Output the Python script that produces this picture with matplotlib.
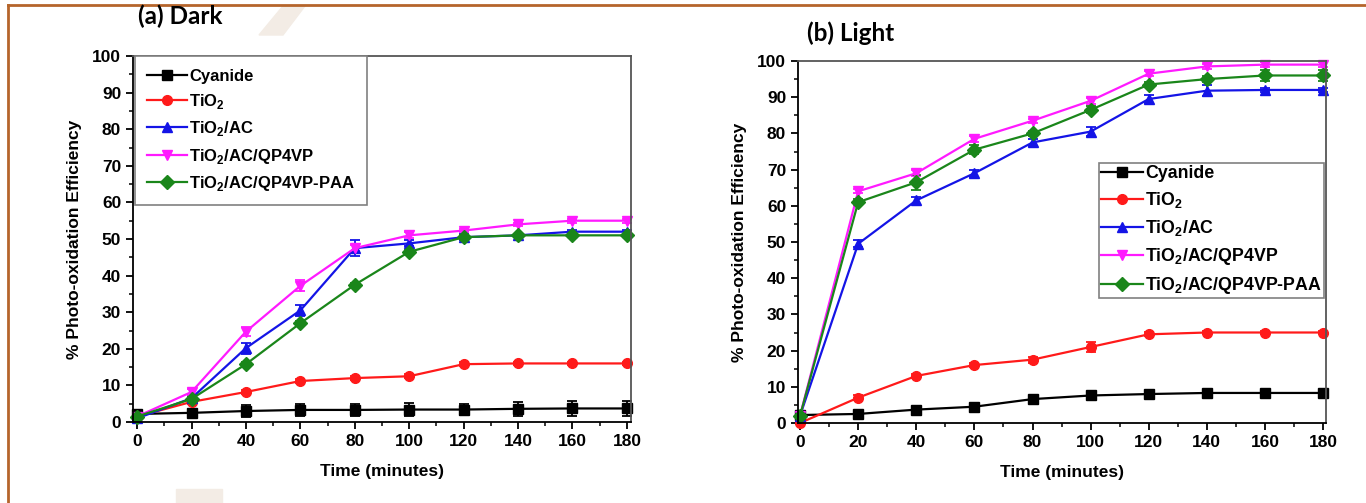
import numpy as np
import matplotlib
matplotlib.use("Agg")
import matplotlib.pyplot as plt
from matplotlib.patches import Polygon
from matplotlib.lines import Line2D
from matplotlib.ticker import MultipleLocator

plt.rcParams['font.family'] = ['Liberation Sans', 'DejaVu Sans']
plt.rcParams['font.weight'] = 'bold'
plt.rcParams['mathtext.fontset'] = 'custom'
plt.rcParams['mathtext.rm'] = 'Liberation Sans:bold'
plt.rcParams['mathtext.bf'] = 'Liberation Sans:bold'

# time axis (minutes)
time = [0, 20, 40, 60, 80, 100, 120, 140, 160, 180]

labels = ['Cyanide', r'TiO$_\mathbf{2}$', r'TiO$_\mathbf{2}$/AC',
          r'TiO$_\mathbf{2}$/AC/QP4VP', r'TiO$_\mathbf{2}$/AC/QP4VP-PAA']
colors = ['black', '#ff1a1a', '#1414e6', '#ff1aff', '#1a861a']
markers = ['s', 'o', '^', 'v', 'D']

# (a) dark
dark = [
    [2.2, 2.5, 3.0, 3.3, 3.3, 3.4, 3.4, 3.6, 3.7, 3.7],
    [1.5, 5.5, 8.2, 11.2, 12.0, 12.5, 15.8, 16.0, 16.0, 16.0],
    [1.0, 6.5, 20.2, 30.5, 47.5, 48.8, 50.5, 51.0, 52.0, 52.0],
    [1.5, 8.2, 24.7, 37.2, 47.5, 51.0, 52.3, 54.0, 55.0, 55.0],
    [1.5, 6.3, 15.8, 27.0, 37.5, 46.5, 50.5, 51.0, 51.0, 51.0],
]
dark_err = [
    [1.2, 0.8, 1.6, 1.7, 1.6, 1.8, 1.6, 2.0, 2.1, 2.0],
    [0.4, 0.5, 0.5, 0.5, 0.5, 0.6, 0.5, 0.5, 0.5, 0.5],
    [0.5, 0.6, 1.5, 1.5, 2.2, 0.8, 0.8, 0.5, 0.5, 0.5],
    [0.5, 0.8, 1.2, 1.5, 0.8, 0.8, 0.5, 0.5, 0.5, 0.5],
    [0.5, 0.5, 0.6, 0.6, 0.6, 0.6, 0.5, 0.5, 0.5, 0.5],
]

# (b) light
light = [
    [2.2, 2.5, 3.7, 4.5, 6.6, 7.6, 8.0, 8.3, 8.3, 8.3],
    [0.0, 7.0, 13.0, 16.0, 17.5, 21.0, 24.5, 25.0, 25.0, 25.0],
    [2.0, 49.5, 61.5, 69.0, 77.5, 80.5, 89.5, 91.8, 92.0, 92.0],
    [2.0, 64.0, 69.0, 78.5, 83.5, 89.0, 96.5, 98.5, 99.0, 99.0],
    [2.0, 61.0, 66.5, 75.5, 80.0, 86.5, 93.5, 95.0, 96.0, 96.0],
]
light_err = [
    [0.4, 0.4, 0.5, 0.5, 0.5, 0.5, 0.5, 0.5, 0.5, 0.5],
    [0.4, 0.6, 0.6, 0.6, 0.8, 1.5, 0.6, 0.5, 0.5, 0.5],
    [0.5, 1.0, 1.0, 1.0, 1.0, 1.2, 1.0, 1.5, 0.6, 0.6],
    [0.5, 0.6, 0.8, 0.8, 0.6, 0.8, 0.6, 0.8, 0.6, 0.6],
    [0.5, 0.8, 2.0, 1.2, 0.8, 1.0, 0.8, 0.8, 1.5, 1.5],
]

fig = plt.figure(figsize=(13.66, 5.03), dpi=100)

# frame and watermark of the screenshot
fig.add_artist(Line2D([0.0059, 1.0], [0.990, 0.990], color='#b5652b', lw=2))
fig.add_artist(Line2D([0.0059, 0.0059], [0.0, 0.990], color='#b5652b', lw=2))
fig.add_artist(Polygon([[283/1366, 1 - 6/503], [305/1366, 1 - 6/503],
                        [283/1366, 1 - 35/503], [259/1366, 1 - 35/503]],
                       closed=True, color='#f3ece5', zorder=-1))
fig.add_artist(Polygon([[176/1366, 1 - 489/503], [222/1366, 1 - 489/503],
                        [222/1366, 0], [176/1366, 0]],
                       closed=True, color='#f3ece5', zorder=-1))


def draw(ax, data, err, legend_loc, legend_anchor, leg_size, leg_pad, leg_space):
    for y, e, lab, c, m in zip(data, err, labels, colors, markers):
        ax.errorbar(time, y, yerr=e, color=c, marker=m, ms=7, lw=1.6,
                    capsize=3.5, elinewidth=1.3, capthick=1.3, label=lab,
                    clip_on=False)
    ax.set_ylim(0, 100)
    ax.xaxis.set_major_locator(MultipleLocator(20))
    ax.xaxis.set_minor_locator(MultipleLocator(10))
    ax.yaxis.set_major_locator(MultipleLocator(10))
    ax.yaxis.set_minor_locator(MultipleLocator(5))
    ax.tick_params(which='major', direction='out', length=5, width=1.3,
                   labelsize=12.5)
    ax.tick_params(which='minor', direction='out', length=3, width=1.1)
    for s in ax.spines.values():
        s.set_linewidth(1.3)
    for s in ['top', 'right']:
        ax.spines[s].set_color('#555555')
    ax.set_xlabel('Time (minutes)', fontsize=12.5, fontweight='bold', labelpad=11)
    ax.set_ylabel('% Photo-oxidation Efficiency', fontsize=12.5,
                  fontweight='bold', labelpad=7)
    handles, labs = ax.get_legend_handles_labels()
    handles = [h[0] for h in handles]
    leg = ax.legend(handles, labs, loc=legend_loc, bbox_to_anchor=legend_anchor,
                    borderaxespad=0, fontsize=leg_size, handlelength=2.4,
                    handletextpad=0.1, labelspacing=leg_space,
                    borderpad=leg_pad, fancybox=False, framealpha=1,
                    edgecolor='#808080')
    leg.get_frame().set_linewidth(1.2)
    for t in leg.get_texts():
        t.set_fontweight('bold')


ax1 = fig.add_axes([133/1366, 1 - 422/503, 498/1366, 366/503])
draw(ax1, dark, dark_err, 'upper left', (0.004, 1.0), 12, 0.75, 0.5)
ax1.set_xlim(-1.5, 181.5)

ax2 = fig.add_axes([798/1366, 1 - 423/503, 528/1366, 362/503])
draw(ax2, light, light_err, 'upper right', (0.996, 0.718), 12.75, 0.12, 0.45)
ax2.set_xlim(-0.7, 181)

fig.text(180/1366, 1 - 16/503, '(a) Dark', fontsize=17.5, fontweight='bold',
         family=['Lato', 'DejaVu Sans'], ha='center', va='center')
fig.text(851/1366, 1 - 33/503, '(b) Light', fontsize=17.5, fontweight='bold',
         family=['Lato', 'DejaVu Sans'], ha='center', va='center')

fig.savefig('out.png', dpi=100)
